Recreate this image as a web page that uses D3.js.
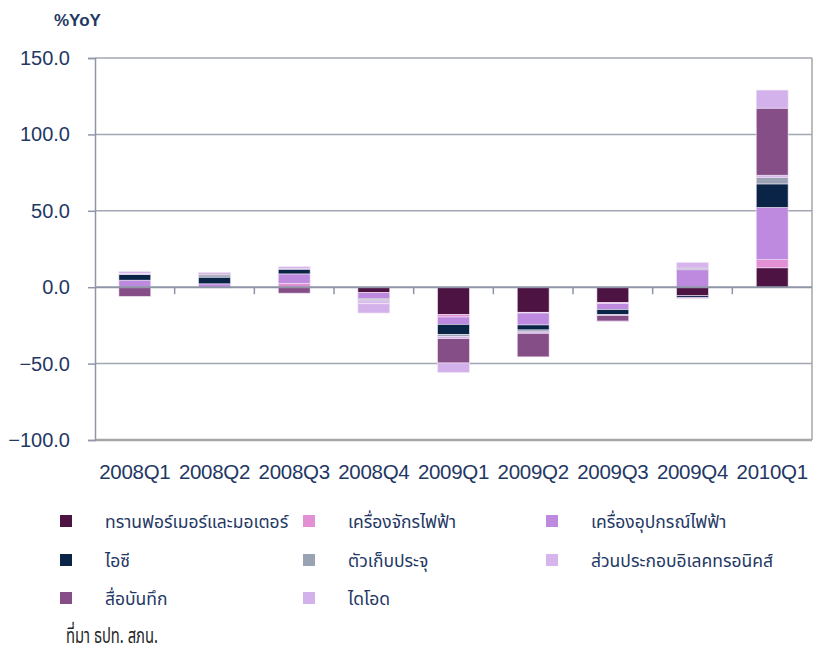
<!DOCTYPE html>
<html>
<head>
<meta charset="utf-8">
<script src="https://cdn.jsdelivr.net/npm/d3@7"></script>
<style>
  body { margin: 0; background: #fff; }
  svg { display: block; }
</style>
</head>
<body>
<svg id="chart" width="813" height="651"></svg>
<script>
// quarters on the x axis
var quarters = ["2008Q1", "2008Q2", "2008Q3", "2008Q4", "2009Q1", "2009Q2", "2009Q3", "2009Q4", "2010Q1"];

// contribution to %YoY of each product group
var transformer = [0, -0.5, -0.3, -3.6, -18.0, -16.4, -10.0, -5.6, 12.7];
var machinery   = [0, 0, 2.6, 0, -1.5, -0.5, -0.8, 0, 5.3];
var equipment   = [4.6, 2.2, 6.1, -4.0, -4.8, -7.8, -3.8, 11.4, 34.2];
var ic          = [3.7, 4.4, 3.1, -0.6, -6.6, -3.3, -3.3, -1.0, 15.4];
var capacitor   = [0.4, 1.5, 0.3, -0.8, -1.5, -1.3, -0.6, 1.1, 4.4];
var components  = [0.5, 0.3, 1.3, -1.5, -1.3, -0.9, 0, 3.7, 1.3];
var media       = [-6.0, 0.8, -3.6, -0.4, -15.9, -15.4, -3.7, -0.6, 43.9];
var diode       = [1.0, 0.6, 0, -6.0, -6.2, 0, -0.5, 0, 11.8];

var seriesNames = ["ทรานฟอร์เมอร์และมอเตอร์", "เครื่องจักรไฟฟ้า", "เครื่องอุปกรณ์ไฟฟ้า",
                   "ไอซี", "ตัวเก็บประจุ", "ส่วนประกอบอิเลคทรอนิคส์", "สื่อบันทึก", "ไดโอด"];
var seriesValues = [transformer, machinery, equipment, ic, capacitor, components, media, diode];
var colors = ["#4d1343", "#e38fd3", "#bd8ae0", "#0a2448", "#99a3b3", "#d6b4ec", "#864e86", "#d3b1ea"];

var yTicks = [150, 100, 50, 0, -50, -100];

var svg = d3.select("#chart");
var navy = "#1f3864";

var plot = { left: 95, right: 812, top: 58, bottom: 440 };

var x = d3.scaleBand()
    .domain(quarters)
    .range([plot.left, plot.right])
    .paddingInner(0.6)
    .paddingOuter(0.3);

var y = d3.scaleLinear()
    .domain([-100, 150])
    .range([plot.bottom, plot.top]);

// table for d3.stack
var rows = quarters.map(function(q, i) {
    var r = { q: q };
    seriesNames.forEach(function(n, j) { r[n] = seriesValues[j][i]; });
    return r;
});

var stacked = d3.stack()
    .keys(seriesNames)
    .offset(d3.stackOffsetDiverging)(rows);

// gridlines
svg.append("g")
    .selectAll("line")
    .data(yTicks.filter(function(t) { return t !== 0 && t !== -100; }))
    .enter().append("line")
    .attr("x1", plot.left).attr("x2", plot.right)
    .attr("y1", function(d) { return y(d); })
    .attr("y2", function(d) { return y(d); })
    .attr("stroke", "#a3a7b4")
    .attr("stroke-width", 1.5);

// frame: bottom + right
svg.append("line")
    .attr("x1", plot.left).attr("x2", plot.right)
    .attr("y1", y(-100)).attr("y2", y(-100))
    .attr("stroke", "#a6a6a6").attr("stroke-width", 2.5);
svg.append("line")
    .attr("x1", plot.right).attr("x2", plot.right)
    .attr("y1", plot.top).attr("y2", plot.bottom)
    .attr("stroke", "#a6a6a6").attr("stroke-width", 1.5);

// bars
svg.append("g")
    .selectAll("g")
    .data(stacked)
    .enter().append("g")
    .attr("fill", function(d, i) { return colors[i]; })
    .selectAll("rect")
    .data(function(d) { return d; })
    .enter().append("rect")
    .attr("x", function(d) { return x(d.data.q); })
    .attr("width", x.bandwidth())
    .attr("y", function(d) { return y(Math.max(d[0], d[1])); })
    .attr("height", function(d) { return Math.abs(y(d[0]) - y(d[1])); })
    .attr("stroke", "#f0e4f6")
    .attr("stroke-width", function(d) { return d[0] === d[1] ? 0 : 0.6; });

// left axis
var yAxis = svg.append("g")
    .attr("transform", "translate(" + plot.left + ",0)")
    .call(d3.axisLeft(y).tickValues(yTicks).tickSize(7).tickPadding(18)
        .tickFormat(d3.format(".1f")));
yAxis.select(".domain").attr("stroke", "#9096a8").attr("stroke-width", 1.5);
yAxis.selectAll(".tick line").attr("stroke", "#9096a8").attr("stroke-width", 1.5);
yAxis.selectAll("text")
    .attr("fill", navy)
    .attr("font-family", "Liberation Sans, Arial, sans-serif")
    .attr("font-size", "20px");

// zero line with category ticks
var boundaries = d3.range(1, quarters.length).map(function(i) {
    return plot.left + i * (plot.right - plot.left) / quarters.length;
});
svg.append("line")
    .attr("x1", plot.left).attr("x2", plot.right)
    .attr("y1", y(0)).attr("y2", y(0))
    .attr("stroke", "#8e95a6").attr("stroke-width", 2);
svg.append("g")
    .selectAll("line")
    .data(boundaries)
    .enter().append("line")
    .attr("x1", function(d) { return d; }).attr("x2", function(d) { return d; })
    .attr("y1", y(0)).attr("y2", y(0) + 7)
    .attr("stroke", "#8e95a6").attr("stroke-width", 1.5);

// category labels
svg.append("g")
    .selectAll("text")
    .data(quarters)
    .enter().append("text")
    .attr("x", function(d) { return x(d) + x.bandwidth() / 2; })
    .attr("y", 479)
    .attr("text-anchor", "middle")
    .attr("fill", navy)
    .attr("font-family", "Liberation Sans, Arial, sans-serif")
    .attr("font-size", "20.5px")
    .attr("letter-spacing", "-0.3px")
    .text(function(d) { return d; });

// unit title
svg.append("text")
    .attr("x", 54).attr("y", 26)
    .attr("fill", navy)
    .attr("font-family", "Liberation Sans, Arial, sans-serif")
    .attr("font-weight", "bold")
    .attr("font-size", "17px")
    .text("%YoY");

// legend, 3 columns
var legCols = [60, 303, 546];
var legRows = [521, 560, 598];
var legend = svg.append("g")
    .selectAll("g")
    .data(seriesNames)
    .enter().append("g")
    .attr("transform", function(d, i) {
        return "translate(" + legCols[i % 3] + "," + legRows[Math.floor(i / 3)] + ")";
    });
legend.append("rect")
    .attr("x", 0).attr("y", -6)
    .attr("width", 12).attr("height", 12)
    .attr("fill", function(d, i) { return colors[i]; });
legend.append("text")
    .attr("x", 45).attr("y", 7)
    .attr("fill", navy)
    .attr("font-family", "Noto Sans Thai, Noto Sans, Tahoma, sans-serif")
    .attr("font-size", "17.5px")
    .text(function(d) { return d; });

// source note
svg.append("text")
    .attr("x", 66).attr("y", 643)
    .attr("fill", "#262626")
    .attr("font-family", "Noto Sans Thai, Noto Sans, Tahoma, sans-serif")
    .attr("font-size", "21px")
    .attr("textLength", 92)
    .attr("lengthAdjust", "spacingAndGlyphs")
    .text("ที่มา ธปท. สภน.");
</script>
</body>
</html>
